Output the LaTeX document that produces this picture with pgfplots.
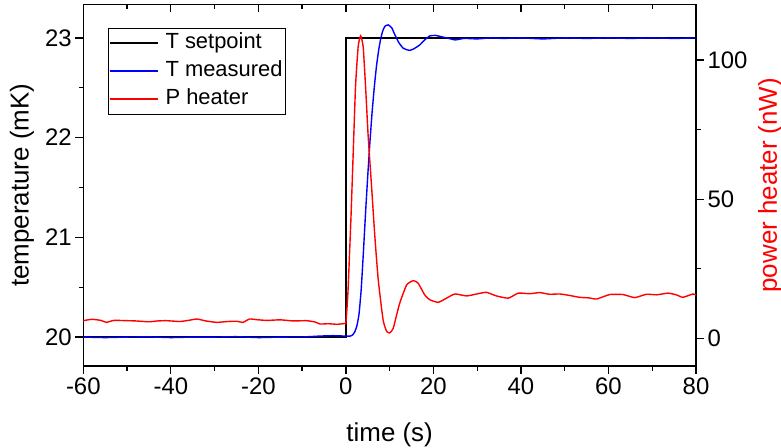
\documentclass[border=0pt]{standalone}
\usepackage{fontspec}
\setmainfont{Liberation Sans}
\usepackage{pgfplots}
\pgfplotsset{compat=1.18}

\pgfplotstableread{
t T
-60 20.000
-55 19.995
-50 20.000
-45 20.002
-40 19.995
-35 20.000
-30 20.000
-25 20.004
-20 19.995
-15 20.000
-10 20.001
-6 20.010
-3 20.014
0 20.010
1 20.010
1.5 20.020
2 20.050
2.5 20.110
3 20.230
3.5 20.480
4 20.850
4.5 21.250
5 21.620
5.5 21.960
6 22.260
6.5 22.510
7 22.720
7.5 22.880
8 23.000
8.5 23.080
9 23.120
9.7 23.130
10.5 23.100
11 23.050
12 22.960
13 22.900
14 22.880
14.6 22.875
15.5 22.890
16.9 22.930
18 22.980
19.2 23.020
20.5 23.025
21.5 23.015
23 23.000
25 22.980
27 22.995
30 22.990
33 23.000
36 22.995
40 23.000
45 22.990
50 23.000
55 22.995
60 23.000
65 22.995
70 23.000
75 22.995
80 23.000
}\Tmeas

\pgfplotstableread{
t P
-60 6.3
-58 6.8
-56 6.4
-54.7 5.7
-53 6.4
-50 6.3
-48 6.2
-45 5.9
-43 6.2
-41 6.3
-38 6.0
-36 6.4
-34 6.9
-32 6.2
-29.5 5.7
-27 6.0
-25 6.1
-23.5 5.7
-22 6.9
-20 6.6
-18 6.4
-15 6.6
-12 6.2
-9 6.3
-7 5.8
-5.9 5.1
-4 5.2
-2 5.0
-0.2 5.3
0 5.5
0.3 12.0
0.53 18.5
1.14 42.5
1.67 66.5
2.2 90.4
2.8 104.8
3.36 108.7
3.95 104.8
4.5 90.4
5.1 72.4
5.87 54.5
6.62 36.5
7.4 20.9
8.5 6.6
9.3 2.5
10 1.9
10.8 3.5
12.3 12.6
13.9 19.2
15.4 20.7
16.5 19.8
18 15.6
19.2 13.8
21.1 12.9
23 14.4
24.9 15.9
27.6 15.2
29.9 15.9
32.1 16.5
34.4 15.2
37.1 14.4
39.4 16.2
42 16.0
44.3 16.4
46.5 15.8
48.9 15.9
51 15.4
53.4 14.7
55.5 14.5
57.3 14.1
60.3 15.7
63.3 15.7
66 14.6
68.7 15.8
71 15.6
73.6 16.2
75.5 15.6
77 14.7
79.3 15.9
80 15.5
}\Pheat

\begin{document}
\begin{tikzpicture}
\useasboundingbox (-83.3bp,-82bp) rectangle (697.7bp,366bp);
\pgfplotsset{
  every axis/.append style={
    scale only axis, width=612.7bp, height=361.5bp,
    xmin=-60, xmax=80,
    axis line style={line width=1.3bp, black},
    every tick/.style={black, line width=1.3bp},
    major tick length=8bp, minor tick length=4.5bp,
    tick label style={font=\fontsize{24}{28}\selectfont},
    label style={font=\fontsize{26}{30}\selectfont},
    /pgf/number format/assume math mode=true,
  },
}
\begin{axis}[
  axis x line*=bottom, axis y line*=left,
  ymin=19.71, ymax=23.335,
  xtick={-60,-40,-20,0,20,40,60,80},
  xticklabels={-60,-40,-20,0,20,40,60,80},
  minor x tick num=1,
  ytick={20,21,22,23}, yticklabels={20,21,22,23},
  minor y tick num=1,
  tick align=outside,
  xlabel={time (s)}, ylabel={temperature (mK)},
  xlabel style={at={(axis description cs:0.5,-0.19)}, anchor=center},
  ylabel style={at={(axis description cs:-0.10,0.5)}, anchor=center},
  legend style={at={(axis description cs:0.0403,0.935)}, anchor=north west,
    draw=black, font=\fontsize{22}{26}\selectfont,
    inner xsep=1bp, inner ysep=3bp, row sep=4bp,
    nodes={inner sep=1.5bp, text height=16bp, text depth=5bp},
    /tikz/every odd column/.append style={column sep=5bp}},
  legend cell align=left,
  legend image post style={xscale=2.85},
]
\addplot[black, line width=1.4bp] coordinates {(-60,20) (0,20) (0,23) (80,23)};
\addlegendentry{T setpoint}
\addplot[blue, line width=1.4bp, smooth, tension=0.3] table[x=t, y=T] {\Tmeas};
\addlegendentry{T measured}
\addlegendimage{red, line width=1.4bp}
\addlegendentry{P heater}
\end{axis}
\begin{axis}[
  axis x line=none, axis y line*=right,
  ymin=-10, ymax=120,
  ytick={0,50,100}, yticklabels={0,50,100},
  minor y tick num=1,
  tick align=outside,
  ylabel={power heater (nW)},
  ylabel style={at={(axis description cs:1.121,0.5)}, anchor=center, red, rotate=0},
]
\addplot[red, line width=1.4bp, smooth, tension=0.3] table[x=t, y=P] {\Pheat};
\end{axis}
\begin{axis}[
  axis x line*=top, axis y line=none,
  ymin=0, ymax=1,
  xtick={-60,-40,-20,0,20,40,60,80}, xticklabels={},
  minor x tick num=1,
  tick align=inside,
]
\end{axis}
\end{tikzpicture}
\end{document}
